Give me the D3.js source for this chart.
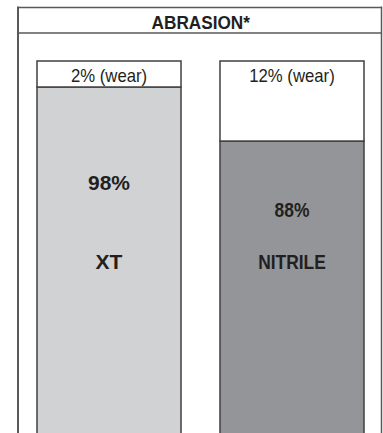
<!DOCTYPE html>
<html><head><meta charset="utf-8">
<script src="https://cdn.jsdelivr.net/npm/d3@7"></script>
<style>
html,body{margin:0;padding:0;background:#fff;}
svg{display:block;}
text{font-family:"Liberation Sans",Arial,Helvetica,sans-serif;fill:#231f20;}
</style></head>
<body>
<script>
const title = "ABRASION*";
const categories = ["XT", "NITRILE"];
const retained = [98, 88];
const wear = [2, 12];
const wearLabels = ["2% (wear)", "12% (wear)"];
const retainedLabels = ["98%", "88%"];
const fills = ["#d1d2d4", "#939598"];

const W = 383, H = 433;
const svg = d3.select("body").append("svg").attr("width", W).attr("height", H);

// frame
const fx0 = 18, fx1 = 381.5, fy0 = 7.5, fy1 = 33;
const frameColor = "#58595b";
svg.append("line").attr("x1", fx0).attr("x2", fx0).attr("y1", fy0 - 1).attr("y2", H + 5)
  .attr("stroke", frameColor).attr("stroke-width", 2);
svg.append("line").attr("x1", fx1).attr("x2", fx1).attr("y1", fy0 - 1).attr("y2", H + 5)
  .attr("stroke", frameColor).attr("stroke-width", 1.5);
svg.append("line").attr("x1", fx0).attr("x2", fx1).attr("y1", fy0).attr("y2", fy0)
  .attr("stroke", frameColor).attr("stroke-width", 1.5);
svg.append("line").attr("x1", fx0).attr("x2", fx1).attr("y1", fy1).attr("y2", fy1)
  .attr("stroke", frameColor).attr("stroke-width", 1.5);
svg.append("text").attr("text-anchor", "middle")
  .attr("transform", `translate(${(fx0 + fx1) / 2 + 1},28.5) scale(0.93,1)`)
  .attr("font-weight", "bold").attr("font-size", 18.5).text(title);

// scales
const x = d3.scaleBand().domain(categories).range([37, 364]).paddingInner(0.213).paddingOuter(0);
const yTop = 61;
const y = d3.scaleLinear().domain([0, 100]).range([yTop, yTop + 667]);
const minWearH = 26;
const labelMidRef = 277;
const nameBaseline = 268.5;
const condense = [1, 0.85];

categories.forEach((c, i) => {
  const x0 = x(c), bw = x.bandwidth(), cx = x0 + bw / 2;
  const wearBottom = Math.max(y(wear[i]), yTop + minWearH);
  const g = svg.append("g");
  // retained part
  g.append("rect").attr("x", x0).attr("y", wearBottom).attr("width", bw).attr("height", y(100) - wearBottom)
    .attr("fill", fills[i]).attr("stroke", "#414042").attr("stroke-width", 1.5);
  // wear part
  g.append("rect").attr("x", x0).attr("y", yTop).attr("width", bw).attr("height", wearBottom - yTop)
    .attr("fill", "#fff").attr("stroke", "#414042").attr("stroke-width", 1.5);
  g.append("text").attr("text-anchor", "middle")
    .attr("transform", `translate(${cx},${yTop + 20.5}) scale(0.93,1)`)
    .attr("font-size", 18).text(wearLabels[i]);
  const fs = i === 0 ? 21 : 20.5;
  g.append("text").attr("text-anchor", "middle")
    .attr("transform", `translate(${cx},${(wearBottom + labelMidRef) / 2 + 7.5}) scale(${condense[i]},1)`)
    .attr("font-weight", "bold").attr("font-size", fs).text(retainedLabels[i]);
  g.append("text").attr("text-anchor", "middle")
    .attr("transform", `translate(${cx},${nameBaseline}) scale(${condense[i]},1)`)
    .attr("font-weight", "bold").attr("font-size", fs).text(c);
});
</script>
</body></html>
